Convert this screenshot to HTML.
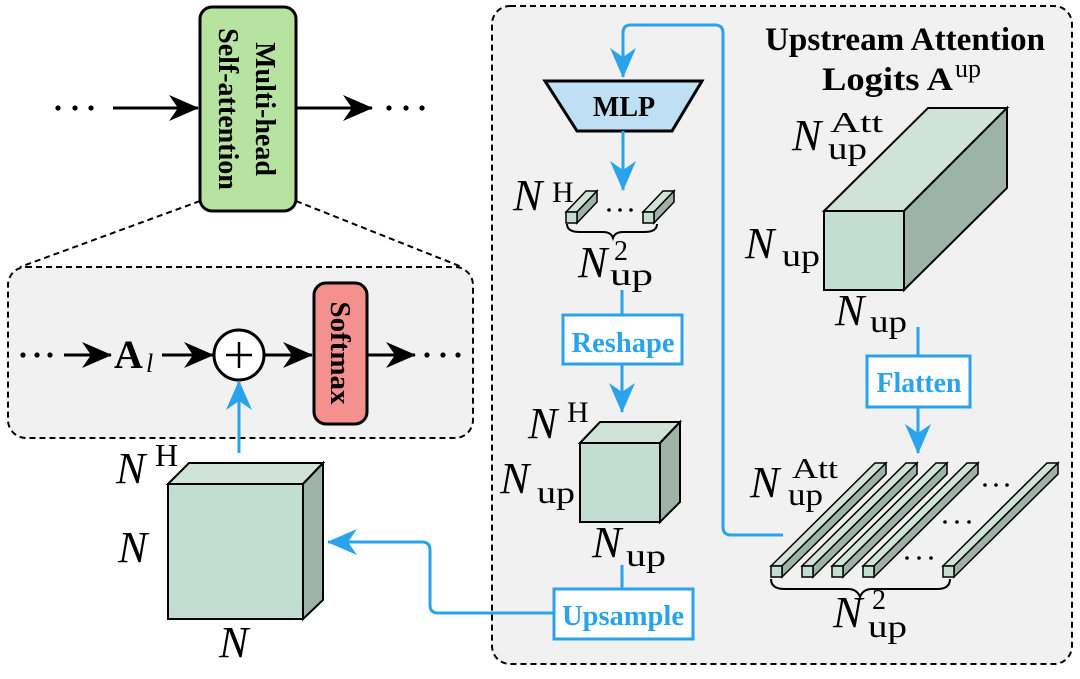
<!DOCTYPE html>
<html><head><meta charset="utf-8"><style>
html,body{margin:0;padding:0;background:#fff;}
svg{display:block;}
.m{font-family:"Liberation Serif",serif;font-style:italic;}
.r{font-family:"Liberation Serif",serif;}
.b{font-family:"Liberation Serif",serif;font-weight:bold;}
</style></head><body>
<svg width="1080" height="679" viewBox="0 0 1080 679" xmlns="http://www.w3.org/2000/svg">
<defs>
<marker id="ak" viewBox="0 0 30 26" refX="29" refY="13" markerWidth="30" markerHeight="26" markerUnits="userSpaceOnUse" orient="auto"><path d="M0,0 L30,13 L0,26 L9,13 Z" fill="#000"/></marker>
<marker id="ab" viewBox="0 0 30 26" refX="29" refY="13" markerWidth="30" markerHeight="26" markerUnits="userSpaceOnUse" orient="auto"><path d="M0,0 L30,13 L0,26 L9,13 Z" fill="#29a3ec"/></marker>
</defs>
<!-- dashed boxes -->
<rect x="8" y="267" width="465" height="171" rx="18" fill="#f1f1f1" stroke="#000" stroke-width="2" stroke-dasharray="6,4"/>
<rect x="492" y="6" width="580" height="658" rx="18" fill="#f1f1f1" stroke="#000" stroke-width="2" stroke-dasharray="6,4"/>
<line x1="200" y1="201" x2="20" y2="267" stroke="#000" stroke-width="2" stroke-dasharray="6,4"/>
<line x1="296" y1="201" x2="462" y2="267" stroke="#000" stroke-width="2" stroke-dasharray="6,4"/>
<!-- top row -->
<g fill="#000"><circle cx="58" cy="108" r="2.6"/><circle cx="75" cy="108" r="2.6"/><circle cx="91" cy="108" r="2.6"/>
<circle cx="389" cy="108" r="2.6"/><circle cx="406" cy="108" r="2.6"/><circle cx="422" cy="108" r="2.6"/></g>
<line x1="113" y1="108" x2="198" y2="108" stroke="#000" stroke-width="3" marker-end="url(#ak)"/>
<rect x="200" y="7" width="96" height="204" rx="12" fill="#b7e3a1" stroke="#000" stroke-width="3"/>
<text transform="translate(256,109) rotate(90)" text-anchor="middle" class="b" font-size="28">Multi-head</text>
<text transform="translate(219,109) rotate(90)" text-anchor="middle" class="b" font-size="28">Self-attention</text>
<line x1="296" y1="108" x2="372" y2="108" stroke="#000" stroke-width="3" marker-end="url(#ak)"/>
<!-- inner row -->
<g fill="#000"><circle cx="23" cy="355" r="2.6"/><circle cx="37" cy="355" r="2.6"/><circle cx="50" cy="355" r="2.6"/>
<circle cx="427" cy="355" r="2.6"/><circle cx="443" cy="355" r="2.6"/><circle cx="458" cy="355" r="2.6"/></g>
<line x1="64" y1="355" x2="111" y2="355" stroke="#000" stroke-width="3" marker-end="url(#ak)"/>
<text x="114" y="368" class="b" font-size="40">A</text><text x="146" y="372" class="m" font-size="26">l</text>
<line x1="162" y1="355" x2="213" y2="355" stroke="#000" stroke-width="3" marker-end="url(#ak)"/>
<circle cx="239" cy="355" r="25" fill="#fff" stroke="#000" stroke-width="3"/>
<line x1="226" y1="355" x2="252" y2="355" stroke="#000" stroke-width="2.5"/><line x1="239" y1="342" x2="239" y2="368" stroke="#000" stroke-width="2.5"/>
<line x1="264" y1="355" x2="312" y2="355" stroke="#000" stroke-width="3" marker-end="url(#ak)"/>
<rect x="314" y="283" width="53" height="141" rx="12" fill="#f4908e" stroke="#000" stroke-width="3"/>
<text transform="translate(331,353) rotate(90)" text-anchor="middle" class="b" font-size="29">Softmax</text>
<line x1="367" y1="355" x2="415" y2="355" stroke="#000" stroke-width="3" marker-end="url(#ak)"/>
<line x1="239" y1="453" x2="239" y2="381" stroke="#29a3ec" stroke-width="3" marker-end="url(#ab)"/>
<!-- left cube -->
<polygon points="168,484 189,463 323,463 303,484" fill="#cfe3d9" stroke="#000" stroke-width="2"/>
<polygon points="303,484 323,463 323,600 303,619" fill="#9eb3a8" stroke="#000" stroke-width="2"/>
<rect x="168" y="484" width="135" height="135" fill="#c2ddd1" stroke="#000" stroke-width="2"/>
<text x="116" y="483" class="m" font-size="44">N</text><text x="155" y="466" class="r" font-size="32">H</text>
<text x="118" y="562" class="m" font-size="44">N</text>
<text x="219" y="657" class="m" font-size="44">N</text>
<!-- blue path upsample -> cube -->
<path d="M554,613 L438,613 Q430,613 430,605 L430,550 Q430,542 422,542 L328,542" fill="none" stroke="#29a3ec" stroke-width="3" marker-end="url(#ab)"/>
<!-- loop path -->
<path d="M783,535 L731,535 Q723,535 723,527 L723,33 Q723,25 715,25 L631,25 Q623,25 623,33 L623,77" fill="none" stroke="#29a3ec" stroke-width="3" marker-end="url(#ab)"/>
<!-- MLP -->
<polygon points="545,81 702,81 672,131 577,131" fill="#bfe0f4" stroke="#000" stroke-width="3"/>
<text x="624" y="116" text-anchor="middle" class="b" font-size="28">MLP</text>
<line x1="623" y1="131" x2="623" y2="190" stroke="#29a3ec" stroke-width="3" marker-end="url(#ab)"/>
<!-- small bars -->
<g stroke="#000" stroke-width="1.5">
<polygon points="566,212 586,191 597,191 577,212" fill="#cfe3d9"/>
<polygon points="577,212 597,191 597,202 577,223" fill="#9eb3a8"/>
<rect x="566" y="212" width="11" height="11" fill="#c2ddd1"/>
<polygon points="643,212 663,191 674,191 654,212" fill="#cfe3d9"/>
<polygon points="654,212 674,191 674,202 654,223" fill="#9eb3a8"/>
<rect x="643" y="212" width="11" height="11" fill="#c2ddd1"/>
</g>
<g fill="#000"><circle cx="609" cy="210" r="1.8"/><circle cx="620" cy="210" r="1.8"/><circle cx="631" cy="210" r="1.8"/></g>
<path d="M567,224 Q567,232 580,232 L603,232 Q611,232 613,238 Q615,232 623,232 L644,232 Q657,232 657,224" fill="none" stroke="#000" stroke-width="2"/>
<text x="513" y="210" class="m" font-size="44">N</text><text x="552" y="202" class="r" font-size="30">H</text>
<text x="578" y="277" class="m" font-size="44">N</text><text x="614" y="260" class="r" font-size="28">2</text><text x="610" y="285" class="r" font-size="32" textLength="43" lengthAdjust="spacingAndGlyphs">up</text>
<!-- reshape -->
<line x1="622" y1="290" x2="622" y2="315" stroke="#29a3ec" stroke-width="3"/>
<rect x="563" y="315" width="119" height="49" fill="#fff" stroke="#29a3ec" stroke-width="3"/>
<text x="623" y="352" text-anchor="middle" class="b" font-size="28" fill="#29a3ec" textLength="103" lengthAdjust="spacingAndGlyphs">Reshape</text>
<line x1="622" y1="364" x2="622" y2="412" stroke="#29a3ec" stroke-width="3" marker-end="url(#ab)"/>
<!-- middle cube -->
<polygon points="580,443 600,422 680,422 660,443" fill="#cfe3d9" stroke="#000" stroke-width="2"/>
<polygon points="660,443 680,422 680,502 660,522" fill="#9eb3a8" stroke="#000" stroke-width="2"/>
<rect x="580" y="443" width="80" height="79" fill="#c2ddd1" stroke="#000" stroke-width="2"/>
<text x="528" y="438" class="m" font-size="44">N</text><text x="567" y="422" class="r" font-size="30">H</text>
<text x="500" y="493" class="m" font-size="44">N</text><text x="537" y="503" class="r" font-size="32" textLength="38" lengthAdjust="spacingAndGlyphs">up</text>
<text x="592" y="557" class="m" font-size="44">N</text><text x="626" y="566" class="r" font-size="32" textLength="40" lengthAdjust="spacingAndGlyphs">up</text>
<!-- upsample -->
<line x1="622" y1="565" x2="622" y2="589" stroke="#29a3ec" stroke-width="3"/>
<rect x="554" y="589" width="139" height="50" fill="#fff" stroke="#29a3ec" stroke-width="3"/>
<text x="623" y="625" text-anchor="middle" class="b" font-size="28" fill="#29a3ec" textLength="122" lengthAdjust="spacingAndGlyphs">Upsample</text>
<!-- title -->
<text x="765" y="50" class="b" font-size="33" textLength="280" lengthAdjust="spacingAndGlyphs">Upstream Attention</text>
<text x="822" y="90" class="b" font-size="33" textLength="131" lengthAdjust="spacingAndGlyphs">Logits A</text><text x="955" y="77" class="r" font-size="26" textLength="26" lengthAdjust="spacingAndGlyphs">up</text>
<!-- big box -->
<polygon points="824,211 928,108 1007,108 904,211" fill="#cfe3d9" stroke="#000" stroke-width="2"/>
<polygon points="904,211 1007,108 1007,188 904,290" fill="#9eb3a8" stroke="#000" stroke-width="2"/>
<rect x="824" y="211" width="80" height="79" fill="#c2ddd1" stroke="#000" stroke-width="2"/>
<text x="792" y="150" class="m" font-size="44">N</text><text x="830" y="132" class="r" font-size="28" textLength="53" lengthAdjust="spacingAndGlyphs">Att</text><text x="828" y="159" class="r" font-size="32" textLength="39" lengthAdjust="spacingAndGlyphs">up</text>
<text x="745" y="258" class="m" font-size="44">N</text><text x="782" y="266" class="r" font-size="32" textLength="38" lengthAdjust="spacingAndGlyphs">up</text>
<text x="835" y="325" class="m" font-size="44">N</text><text x="870" y="332" class="r" font-size="32" textLength="37" lengthAdjust="spacingAndGlyphs">up</text>
<!-- flatten -->
<line x1="918" y1="327" x2="918" y2="356" stroke="#29a3ec" stroke-width="3"/>
<rect x="867" y="356" width="103" height="51" fill="#fff" stroke="#29a3ec" stroke-width="3"/>
<text x="919" y="392" text-anchor="middle" class="b" font-size="28" fill="#29a3ec" textLength="85" lengthAdjust="spacingAndGlyphs">Flatten</text>
<line x1="918" y1="407" x2="918" y2="453" stroke="#29a3ec" stroke-width="3" marker-end="url(#ab)"/>
<!-- bars -->
<g stroke="#000" stroke-width="1.5">
<g><polygon points="771,566 875,463 886,463 782,566" fill="#cfe3d9"/><polygon points="782,566 886,463 886,474 782,577" fill="#9eb3a8"/><rect x="771" y="566" width="11" height="11" fill="#c2ddd1"/></g>
<g transform="translate(31,0)"><polygon points="771,566 875,463 886,463 782,566" fill="#cfe3d9"/><polygon points="782,566 886,463 886,474 782,577" fill="#9eb3a8"/><rect x="771" y="566" width="11" height="11" fill="#c2ddd1"/></g>
<g transform="translate(61,0)"><polygon points="771,566 875,463 886,463 782,566" fill="#cfe3d9"/><polygon points="782,566 886,463 886,474 782,577" fill="#9eb3a8"/><rect x="771" y="566" width="11" height="11" fill="#c2ddd1"/></g>
<g transform="translate(92,0)"><polygon points="771,566 875,463 886,463 782,566" fill="#cfe3d9"/><polygon points="782,566 886,463 886,474 782,577" fill="#9eb3a8"/><rect x="771" y="566" width="11" height="11" fill="#c2ddd1"/></g>
<g transform="translate(172,0)"><polygon points="771,566 875,463 886,463 782,566" fill="#cfe3d9"/><polygon points="782,566 886,463 886,474 782,577" fill="#9eb3a8"/><rect x="771" y="566" width="11" height="11" fill="#c2ddd1"/></g>
</g>
<g fill="#000">
<circle cx="985" cy="485" r="1.8"/><circle cx="996" cy="485" r="1.8"/><circle cx="1007" cy="485" r="1.8"/>
<circle cx="945" cy="522" r="1.8"/><circle cx="957" cy="522" r="1.8"/><circle cx="969" cy="522" r="1.8"/>
<circle cx="907" cy="558" r="1.8"/><circle cx="919" cy="558" r="1.8"/><circle cx="931" cy="558" r="1.8"/>
</g>
<text x="750" y="497" class="m" font-size="44">N</text><text x="792" y="478" class="r" font-size="28" textLength="46" lengthAdjust="spacingAndGlyphs">Att</text><text x="788" y="505" class="r" font-size="32" textLength="35" lengthAdjust="spacingAndGlyphs">up</text>
<path d="M771,579 Q771,589 785,589 L848,589 Q857,589 860,597 Q863,589 872,589 L937,589 Q950,589 950,579" fill="none" stroke="#000" stroke-width="2"/>
<text x="833" y="627" class="m" font-size="44">N</text><text x="872" y="609" class="r" font-size="28">2</text><text x="868" y="637" class="r" font-size="32" textLength="39" lengthAdjust="spacingAndGlyphs">up</text>
</svg>
</body></html>
